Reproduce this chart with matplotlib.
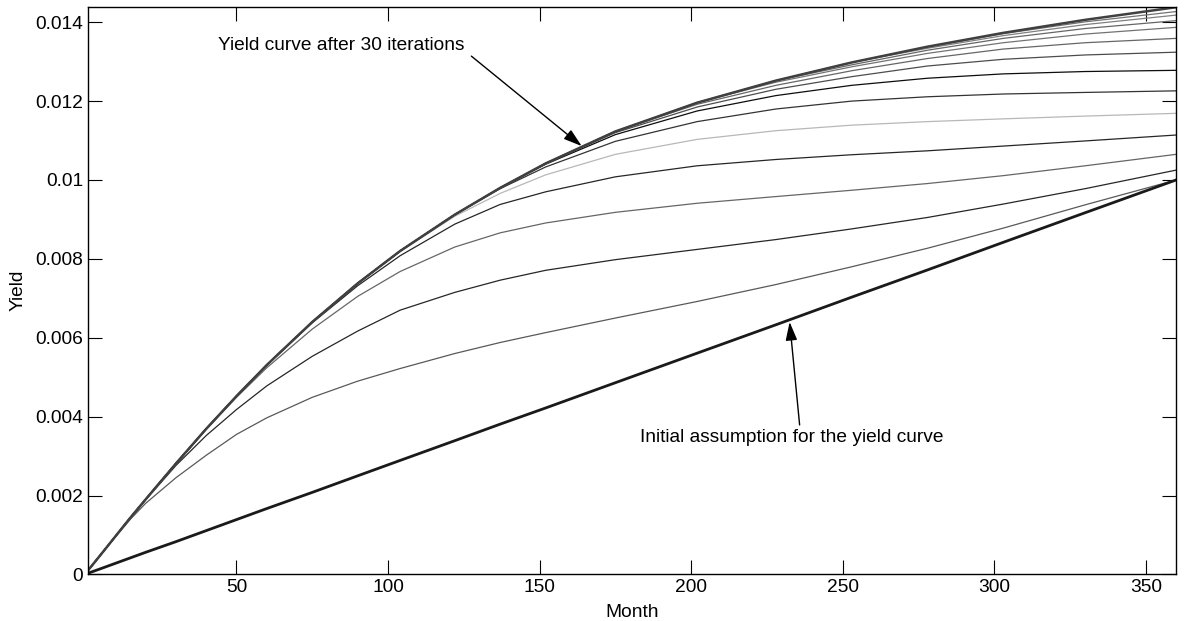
import matplotlib
matplotlib.use("Agg")
import matplotlib.pyplot as plt

plt.rcParams['font.family'] = ['Liberation Sans', 'DejaVu Sans']

months = [1, 5, 10, 15, 20, 30, 40, 50, 60, 75, 90, 104, 122, 137, 152, 175, 202, 228, 253, 278, 303, 330, 360]

# straight-line first guess
initial = [0.00003, 0.00014, 0.00028, 0.00042, 0.00056, 0.00083, 0.00111, 0.00139, 0.00167, 0.00208, 0.00250,
           0.00289, 0.00339, 0.00381, 0.00422, 0.00486, 0.00561, 0.00633, 0.00703, 0.00772, 0.00842, 0.00917, 0.0100]

# curve after 30 iterations
converged = [0.0001, 0.00048, 0.00096, 0.00144, 0.00190, 0.00281, 0.00369, 0.00452, 0.00531, 0.00640, 0.00738,
             0.00820, 0.00912, 0.00980, 0.01042, 0.01123, 0.01196, 0.01252, 0.01298, 0.01338, 0.01373, 0.01406, 0.01438]

# intermediate iterations: values from where each one leaves the converged curve
it1 = [0.00095, 0.00140, 0.00180, 0.00245, 0.00302, 0.00355, 0.00397, 0.00449, 0.00490, 0.00522, 0.00560,
       0.00588, 0.00613, 0.00650, 0.00692, 0.00735, 0.00780, 0.00827, 0.00878, 0.00937, 0.0100]
it2 = [0.00189, 0.00276, 0.00352, 0.00418, 0.00478, 0.00553, 0.00617, 0.00670, 0.00715, 0.00746, 0.00771,
       0.00798, 0.00824, 0.00849, 0.00876, 0.00905, 0.00939, 0.00978, 0.01025]
it3 = [0.00368, 0.00449, 0.00524, 0.00622, 0.00705, 0.00768, 0.00830, 0.00866, 0.00891, 0.00918, 0.00941,
       0.00958, 0.00974, 0.00991, 0.01011, 0.01036, 0.01065]
it4 = [0.00638, 0.00732, 0.00808, 0.00888, 0.00938, 0.00970, 0.01008, 0.01036, 0.01052, 0.01064, 0.01074,
       0.01086, 0.01099, 0.01114]
it5 = [0.00819, 0.00908, 0.00966, 0.01013, 0.01065, 0.01103, 0.01125, 0.01139, 0.01148, 0.01155, 0.01162, 0.01169]
it6 = [0.00978, 0.01033, 0.01098, 0.01148, 0.01180, 0.01200, 0.01211, 0.01218, 0.01222, 0.01226]
it7 = [0.01040, 0.01115, 0.01175, 0.01214, 0.01240, 0.01258, 0.01269, 0.01275, 0.01278]
it8 = [0.01120, 0.01185, 0.01230, 0.01262, 0.01289, 0.01306, 0.01317, 0.01324]
it9 = [0.01192, 0.01240, 0.01277, 0.01308, 0.01332, 0.01348, 0.01359]
it10 = [0.01248, 0.01287, 0.01321, 0.01348, 0.01370, 0.01387]
it11 = [0.01292, 0.01329, 0.01359, 0.01384, 0.01404]
it12 = [0.01334, 0.01366, 0.01394, 0.01418]
it13 = [0.01337, 0.01371, 0.01401, 0.01427]

tails = [it1, it2, it3, it4, it5, it6, it7, it8, it9, it10, it11, it12, it13]
grays = ['0.35', '0.15', '0.4', '0.15', '0.72', '0.2', '0.05', '0.3', '0.4', '0.45', '0.4', '0.5', '0.45']

fig = plt.figure(figsize=(11.84, 6.21), dpi=100)
ax = fig.add_axes([0.0743, 0.075, 0.919, 0.914])

for tail, g in zip(tails, grays):
    n = len(months) - len(tail)
    ax.plot(months, converged[:n] + tail, color=g, lw=0.9)
ax.plot(months, converged, color='0.25', lw=1.8)
ax.plot(months, initial, color='0.1', lw=2.0)

fs = 13.8
ax.set_xlim(1, 360)
ax.set_ylim(0, 0.01439)
ax.set_xticks([50, 100, 150, 200, 250, 300, 350])
ax.set_yticks([0, 0.002, 0.004, 0.006, 0.008, 0.01, 0.012, 0.014])
ax.set_yticklabels(['0', '0.002', '0.004', '0.006', '0.008', '0.01', '0.012', '0.014'])
ax.tick_params(direction='in', length=10, width=0.8, top=True, right=True, labelsize=fs, colors='black')
for s in ax.spines.values():
    s.set_linewidth(1.0)
ax.set_xlabel('Month', fontsize=fs, labelpad=5.5)
ax.set_ylabel('Yield', fontsize=fs, labelpad=6)

arrow = dict(arrowstyle='-|>,head_length=0.7,head_width=0.22', color='black', lw=1.0,
             mutation_scale=16, shrinkA=0, shrinkB=0)
ax.text(44, 0.0134, 'Yield curve after 30 iterations', fontsize=fs, va='center', ha='left')
ax.annotate('', xy=(163.9, 0.01086), xytext=(127.5, 0.01314), arrowprops=arrow)
ax.text(183, 0.00346, 'Initial assumption for the yield curve', fontsize=fs, va='center', ha='left')
ax.annotate('', xy=(232.5, 0.0064), xytext=(235.8, 0.00379), arrowprops=arrow)

fig.savefig('out.png', dpi=100)
